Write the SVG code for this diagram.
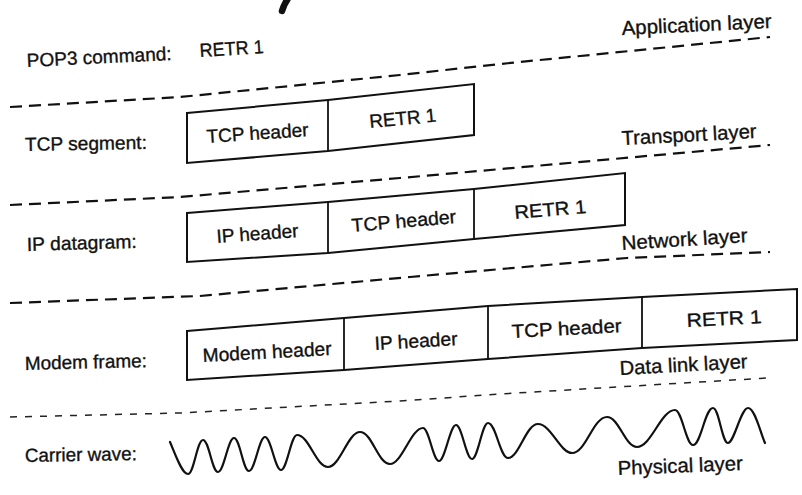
<svg xmlns="http://www.w3.org/2000/svg" width="802" height="495" viewBox="0 0 802 495">
  <style>
    text { font-family: "Liberation Sans", Arial, Helvetica, sans-serif; font-size: 19px; fill: #111; stroke: #111; stroke-width: 0.35; }
    .layer { font-size: 20px; }
    .box { fill: #fff; stroke: #111; stroke-width: 2; stroke-linejoin: miter; }
    .div { stroke: #111; stroke-width: 1.8; fill: none; }
    .sep { fill: none; stroke: #111; stroke-width: 2.2; stroke-dasharray: 12 7; }
    .sep-thin { fill: none; stroke: #222; stroke-width: 1.5; stroke-dasharray: 7 8; }
    .wave { fill: none; stroke: #111; stroke-width: 2.2; stroke-linejoin: round; stroke-linecap: round; }
  </style>
  <rect width="802" height="495" fill="#fff"/>

  <!-- fragment of the heading above the figure -->
  <path d="M289,-3 Q284,4 282,11" fill="none" stroke="#111" stroke-width="6.5" stroke-linecap="round"/>

  <!-- dashed boundaries between layers -->
  <g id="layer-boundaries">
    <path class="sep" d="M10,107 L180,97 L400,75 L500,64 L770,37"/>
    <path class="sep" d="M10,205 L180,197 L400,178 L770,145"/>
    <path class="sep" d="M10,303 L200,296 L410,277 L627,258 L770,252"/>
    <path class="sep-thin" d="M10,417 L180,413 L400,401 L500,394 L767,378"/>
  </g>

  <!-- layer names -->
  <g id="layer-names">
    <text class="layer" x="622" y="35" textLength="150" lengthAdjust="spacingAndGlyphs" transform="rotate(-2.7 622 35)">Application layer</text>
    <text class="layer" x="622" y="145" textLength="135" lengthAdjust="spacingAndGlyphs" transform="rotate(-3 622 145)">Transport layer</text>
    <text class="layer" x="622" y="250" textLength="126" lengthAdjust="spacingAndGlyphs" transform="rotate(-3.6 622 250)">Network layer</text>
    <text class="layer" x="620" y="375" textLength="128" lengthAdjust="spacingAndGlyphs" transform="rotate(-3.1 620 375)">Data link layer</text>
    <text class="layer" x="618" y="475" textLength="125" lengthAdjust="spacingAndGlyphs" transform="rotate(-2.3 618 475)">Physical layer</text>
  </g>

  <!-- application layer: POP3 command -->
  <g id="pop3-command">
    <text x="27" y="67" textLength="145" lengthAdjust="spacingAndGlyphs" transform="rotate(-2.8 27 67)">POP3 command:</text>
    <text x="200" y="57" textLength="64" lengthAdjust="spacingAndGlyphs" transform="rotate(-3.5 200 57)">RETR 1</text>
  </g>

  <!-- transport layer: TCP segment -->
  <g id="tcp-segment">
    <text x="25" y="151" textLength="122" lengthAdjust="spacingAndGlyphs" transform="rotate(-1 25 151)">TCP segment:</text>
    <path class="box" d="M187,113 L328,100 L474,84 L474,135 L328,151 L187,163 Z"/>
    <path class="div" d="M328,100 L328,151"/>
    <text x="207" y="143" textLength="102" lengthAdjust="spacingAndGlyphs" transform="rotate(-3.9 207 143)">TCP header</text>
    <text x="370" y="128" textLength="67" lengthAdjust="spacingAndGlyphs" transform="rotate(-5.5 370 128)">RETR 1</text>
  </g>

  <!-- network layer: IP datagram -->
  <g id="ip-datagram">
    <text x="27" y="251" textLength="110" lengthAdjust="spacingAndGlyphs" transform="rotate(-1.6 27 251)">IP datagram:</text>
    <path class="box" d="M187,213 L328,202 L474,189 L625,173 L625,225 L474,239 L328,253 L187,262 Z"/>
    <path class="div" d="M328,202 L328,253 M474,189 L474,239"/>
    <text x="217" y="243" textLength="82" lengthAdjust="spacingAndGlyphs" transform="rotate(-4.2 217 243)">IP header</text>
    <text x="352" y="232" textLength="105" lengthAdjust="spacingAndGlyphs" transform="rotate(-4.9 352 232)">TCP header</text>
    <text x="515" y="219" textLength="72" lengthAdjust="spacingAndGlyphs" transform="rotate(-4.8 515 219)">RETR 1</text>
  </g>

  <!-- data link layer: modem frame -->
  <g id="modem-frame">
    <text x="25" y="370" textLength="122" lengthAdjust="spacingAndGlyphs" transform="rotate(-1.4 25 370)">Modem frame:</text>
    <path class="box" d="M187,331 L344,318 L488,306 L642,297 L797,289 L797,340 L642,348 L488,359 L344,370 L187,380 Z"/>
    <path class="div" d="M344,318 L344,370 M488,306 L488,359 M642,297 L642,348"/>
    <text x="203" y="362" textLength="129" lengthAdjust="spacingAndGlyphs" transform="rotate(-3.1 203 362)">Modem header</text>
    <text x="375" y="350" textLength="83" lengthAdjust="spacingAndGlyphs" transform="rotate(-3.4 375 350)">IP header</text>
    <text x="512" y="338" textLength="110" lengthAdjust="spacingAndGlyphs" transform="rotate(-3.1 512 338)">TCP header</text>
    <text x="687" y="327" textLength="75" lengthAdjust="spacingAndGlyphs" transform="rotate(-3 687 327)">RETR 1</text>
  </g>

  <!-- physical layer: carrier wave -->
  <g id="carrier-wave">
    <text x="25" y="462" textLength="112" lengthAdjust="spacingAndGlyphs" transform="rotate(-1 25 462)">Carrier wave:</text>
    <path class="wave" d="M170,442
      C176,456 182,474 188,474 C194,474 197,440 203,440 C209,440 212,472 218,472
      C224,472 228,438 234,438 C240,438 243,471 249,471 C255,471 259,437 265,437
      C271,437 275,470 281,470 C287,470 291,435 297,435 C309,435 316,467 328,467
      C340,467 348,432 360,432 C372,432 378,464 390,464 C402,464 411,428 423,428
      C429,428 433,461 439,461 C445,461 450,425 456,425 C462,425 466,459 472,459
      C478,459 482,423 488,423 C496,423 500,458 508,458 C519,458 526,424 538,424
      C551,424 560,453 572,453 C586,453 593,417 607,417 C619,417 625,447 637,447
      C651,447 661,410 675,410 C682,410 686,445 693,445 C701,445 705,408 713,408
      C719,408 722,443 728,443 C734,443 741,408 748,408 C755,408 760,432 765,443"/>
  </g>
</svg>
